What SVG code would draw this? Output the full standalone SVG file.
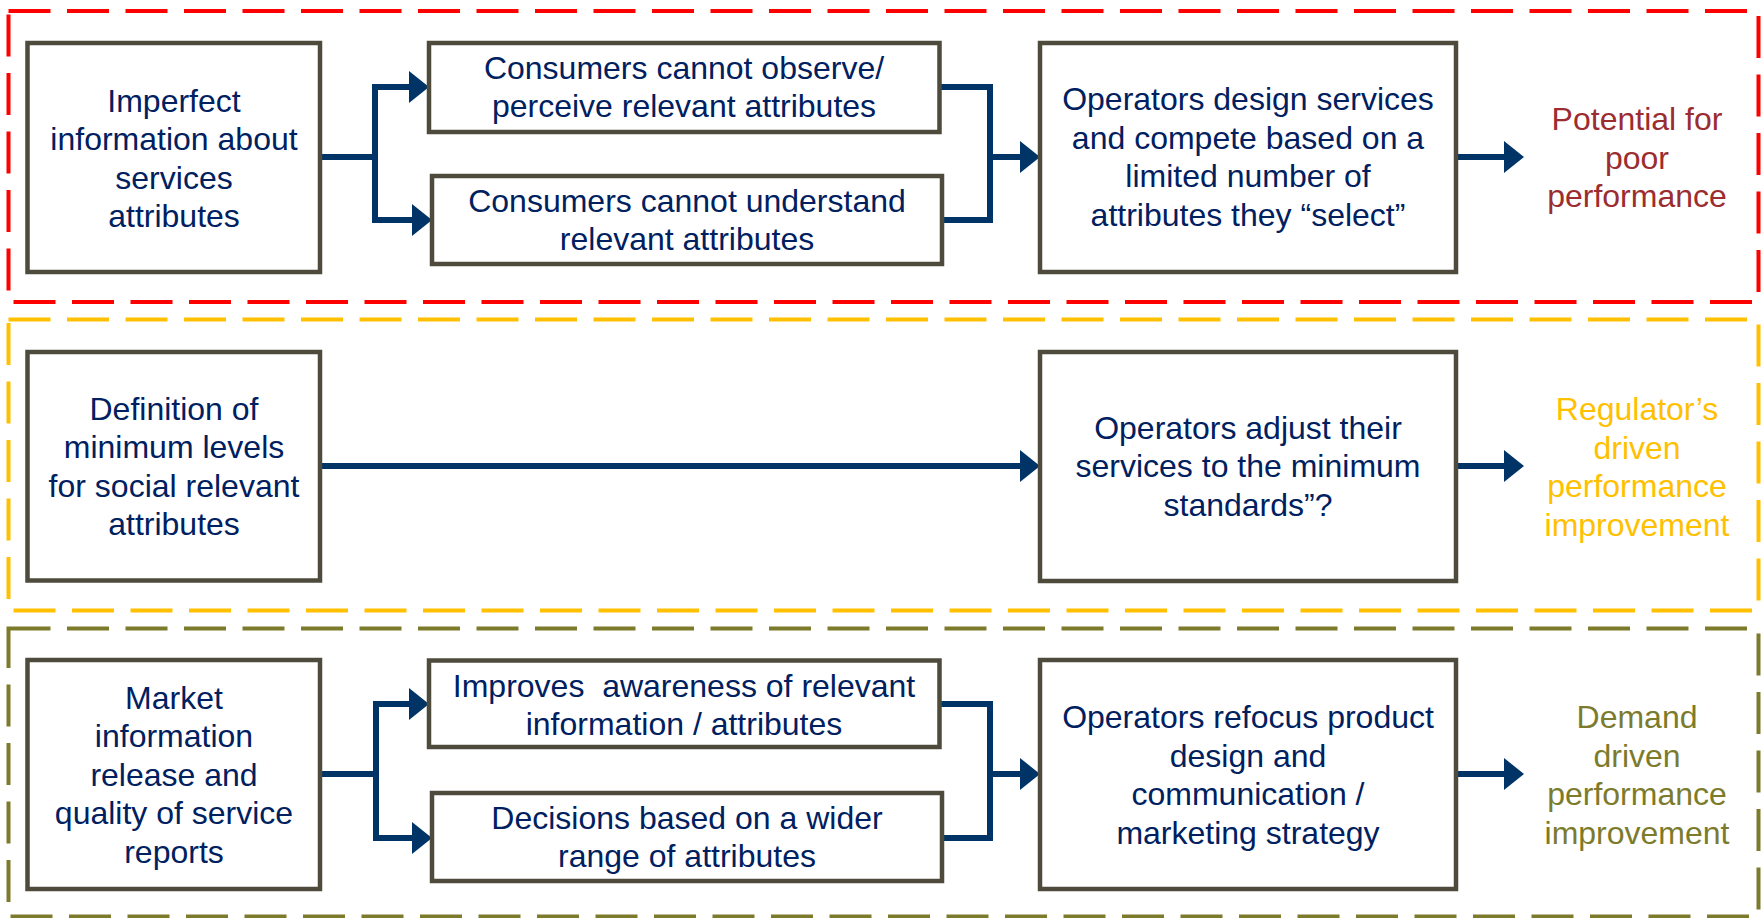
<svg xmlns="http://www.w3.org/2000/svg" width="1761" height="918" viewBox="0 0 1761 918">
<style>
  .band{fill:none;stroke-width:4;stroke-dasharray:42 16.5}
  .box{fill:#ffffff;stroke:#4E4B3C;stroke-width:4.5}
  .t{font-family:"Liberation Sans",Arial,sans-serif;font-size:32px;fill:#002060;text-anchor:middle}
  .lbl{font-family:"Liberation Sans",Arial,sans-serif;font-size:32px;text-anchor:middle}
  .c{fill:none;stroke:#003366;stroke-width:6;stroke-linejoin:miter}
</style>
<defs>
  <marker id="ah" markerUnits="userSpaceOnUse" markerWidth="22" markerHeight="34" viewBox="0 0 22 34" refX="1" refY="17" orient="auto">
    <path d="M0,1 L20,17 L0,33 z" fill="#003366"/>
  </marker>
</defs>
<rect width="1761" height="918" fill="#ffffff"/>
<g id="bands">
  <rect class="band" x="8.5" y="11" width="1750" height="291" stroke="#FF0000"/>
  <rect class="band" x="8.5" y="319.5" width="1750" height="291" stroke="#FFC000"/>
  <rect class="band" x="8.5" y="628.5" width="1750" height="288" stroke="#7C7B2C"/>
</g>
<g id="connectors">
  <path class="c" d="M320,157 H375"/>
  <path class="c" d="M375,157 V87 H410" marker-end="url(#ah)"/>
  <path class="c" d="M375,157 V220 H413" marker-end="url(#ah)"/>
  <path class="c" d="M939.5,87 H990 V220 H942"/>
  <path class="c" d="M990,157 H1021" marker-end="url(#ah)"/>
  <path class="c" d="M1456,157 H1505" marker-end="url(#ah)"/>
  <path class="c" d="M320,466 H1021" marker-end="url(#ah)"/>
  <path class="c" d="M1456,466 H1505" marker-end="url(#ah)"/>
  <path class="c" d="M320,774 H376"/>
  <path class="c" d="M376,774 V704 H410" marker-end="url(#ah)"/>
  <path class="c" d="M376,774 V838 H413" marker-end="url(#ah)"/>
  <path class="c" d="M939.5,704 H990 V838 H942"/>
  <path class="c" d="M990,774 H1021" marker-end="url(#ah)"/>
  <path class="c" d="M1456,774 H1505" marker-end="url(#ah)"/>
</g>
<g id="n1">
  <rect class="box" x="27.5" y="43" width="292.5" height="229"/>
  <text class="t"><tspan x="174" y="112">Imperfect</tspan><tspan x="174" y="150">information about</tspan><tspan x="174" y="188.5">services</tspan><tspan x="174" y="227">attributes</tspan></text>
</g>
<g id="n2">
  <rect class="box" x="429" y="43" width="510.5" height="89"/>
  <text class="t"><tspan x="684" y="79">Consumers cannot observe/</tspan><tspan x="684" y="117">perceive relevant attributes</tspan></text>
</g>
<g id="n3">
  <rect class="box" x="432" y="176" width="510" height="88"/>
  <text class="t"><tspan x="687" y="212">Consumers cannot understand</tspan><tspan x="687" y="250">relevant attributes</tspan></text>
</g>
<g id="n4">
  <rect class="box" x="1040" y="43" width="416" height="229"/>
  <text class="t"><tspan x="1248" y="110">Operators design services</tspan><tspan x="1248" y="148.5">and compete based on a</tspan><tspan x="1248" y="187">limited number of</tspan><tspan x="1248" y="225.5">attributes they “select”</tspan></text>
</g>
<g id="l1">
  <text class="lbl" fill="#9B2D30"><tspan x="1637" y="130">Potential for</tspan><tspan x="1637" y="168.5">poor</tspan><tspan x="1637" y="207">performance</tspan></text>
</g>
<g id="n5">
  <rect class="box" x="27.5" y="352" width="292.5" height="228.5"/>
  <text class="t"><tspan x="174" y="420">Definition of</tspan><tspan x="174" y="458">minimum levels</tspan><tspan x="174" y="496.5">for social relevant</tspan><tspan x="174" y="535">attributes</tspan></text>
</g>
<g id="n6">
  <rect class="box" x="1040" y="352" width="416" height="229"/>
  <text class="t"><tspan x="1248" y="438.5">Operators adjust their</tspan><tspan x="1248" y="477">services to the minimum</tspan><tspan x="1248" y="515.5">standards”?</tspan></text>
</g>
<g id="l2">
  <text class="lbl" fill="#FFC000"><tspan x="1637" y="420">Regulator’s</tspan><tspan x="1637" y="458.5">driven</tspan><tspan x="1637" y="497">performance</tspan><tspan x="1637" y="535.5">improvement</tspan></text>
</g>
<g id="n7">
  <rect class="box" x="27.5" y="660" width="292.5" height="229"/>
  <text class="t"><tspan x="174" y="708.5">Market</tspan><tspan x="174" y="747">information</tspan><tspan x="174" y="785.5">release and</tspan><tspan x="174" y="824">quality of service</tspan><tspan x="174" y="862.5">reports</tspan></text>
</g>
<g id="n8">
  <rect class="box" x="429" y="660.5" width="510.5" height="86.5"/>
  <text class="t"><tspan x="684" y="696.5">Improves&#160; awareness of relevant</tspan><tspan x="684" y="735">information / attributes</tspan></text>
</g>
<g id="n9">
  <rect class="box" x="432" y="793" width="510" height="88"/>
  <text class="t"><tspan x="687" y="828.5">Decisions based on a wider</tspan><tspan x="687" y="867">range of attributes</tspan></text>
</g>
<g id="n10">
  <rect class="box" x="1040" y="660" width="416" height="229"/>
  <text class="t"><tspan x="1248" y="728">Operators refocus product</tspan><tspan x="1248" y="766.5">design and</tspan><tspan x="1248" y="805">communication /</tspan><tspan x="1248" y="843.5">marketing strategy</tspan></text>
</g>
<g id="l3">
  <text class="lbl" fill="#7C7B2C"><tspan x="1637" y="728">Demand</tspan><tspan x="1637" y="766.5">driven</tspan><tspan x="1637" y="805">performance</tspan><tspan x="1637" y="843.5">improvement</tspan></text>
</g>
</svg>
